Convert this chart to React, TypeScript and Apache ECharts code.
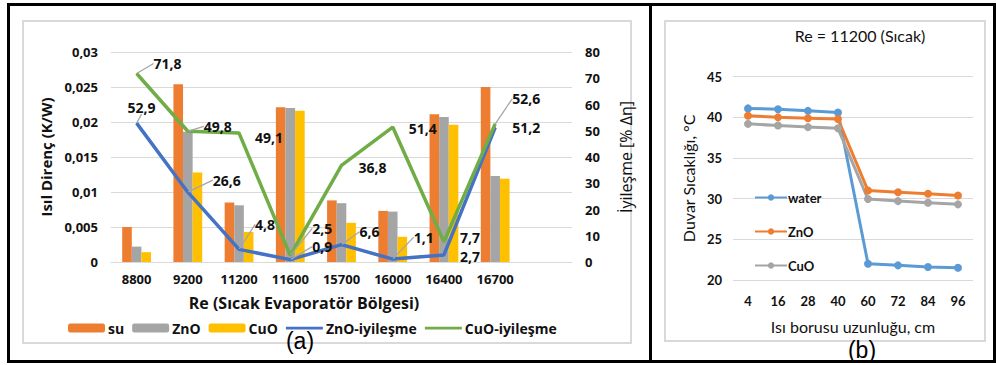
import React, { useEffect, useRef } from "react";
import * as echarts from "echarts";

// (a) Thermal resistance and improvement vs Reynolds number
const reCategories = ["8800", "9200", "11200", "11600", "15700", "16000", "16400", "16700", ""];
const suResistance = [0.005, 0.0254, 0.0085, 0.0221, 0.0088, 0.0073, 0.0211, 0.025];
const znoResistance = [0.0022, 0.0186, 0.0081, 0.022, 0.0084, 0.0072, 0.0207, 0.0123];
const cuoResistance = [0.0014, 0.0128, 0.0043, 0.0216, 0.0056, 0.0036, 0.0196, 0.0119];
const znoImprovement = [52.9, 26.6, 4.8, 0.9, 6.6, 1.1, 2.7, 51.2];
const cuoImprovement = [71.8, 49.8, 49.1, 2.5, 36.8, 51.4, 7.7, 52.6];
const resistanceTicks = ["0", "0,005", "0,01", "0,015", "0,02", "0,025", "0,03"];

// (b) Wall temperature along the heat pipe, Re = 11200
const pipeLengths = ["4", "16", "28", "40", "60", "72", "84", "96"];
const waterWall = [41.1, 41.0, 40.8, 40.6, 22.0, 21.8, 21.6, 21.5];
const znoWall = [40.2, 40.0, 39.9, 39.8, 31.0, 30.8, 30.6, 30.4];
const cuoWall = [39.2, 39.0, 38.8, 38.65, 29.95, 29.7, 29.5, 29.3];

// label placement for the improvement lines (offset from the point, leader line on/off)
const cuoLabelShift = [[31, -10], [30, -5], [30, 4], [32, -27], [31, 2], [30, 1], [26, -4], [31, -25]];
const cuoLeader = [true, true, false, true, false, false, false, true];
const znoLabelShift = [[5, -16], [39, -12], [26, -25], [32, -13], [28, -13], [31, -22], [26, 2], [31, 0]];
const znoLeader = [true, true, true, true, true, true, false, false];

const FONT_A = '"Open Sans", "DejaVu Sans", sans-serif';
const FONT_B = 'Lato, "Open Sans", sans-serif';
const GRID = "#d9d9d9";
const INK = "#111";
// thin bar-shaped legend marker for the line series (extent kept at full icon height)
const LINE_ICON = "path://M0,0 M0,9 M0,3.3 L37,3.3 L37,5.9 L0,5.9 Z";

const comma = (v: number) => String(v).replace(".", ",");

function improvementSeries(
  name: string,
  values: number[],
  color: string,
  shifts: number[][],
  leaders: boolean[]
) {
  return {
    name,
    type: "line",
    yAxisIndex: 1,
    z: 4,
    data: values.map((v, i) => ({ value: v, labelLine: { show: leaders[i] } })),
    symbol: "circle",
    symbolSize: 1,
    showSymbol: true,
    itemStyle: { color },
    lineStyle: { color, width: 3.5 },
    label: {
      show: true,
      position: "inside",
      formatter: (p: any) => comma(p.value),
      color: INK,
      fontFamily: FONT_A,
      fontWeight: "bold",
      fontSize: 14,
    },
    labelLine: { show: false, lineStyle: { color: "#a6a6a6", width: 1.3 } },
    labelLayout: (p: any) => ({
      dx: shifts[p.dataIndex][0],
      dy: shifts[p.dataIndex][1],
    }),
  };
}

function barSeries(name: string, values: number[], color: string) {
  return {
    name,
    type: "bar",
    data: values,
    barWidth: 9.6,
    barGap: "0%",
    itemStyle: { color },
    z: 2,
  };
}

function resistanceOption(): any {
  return {
    animation: false,
    backgroundColor: "transparent",
    textStyle: { fontFamily: FONT_A },
    grid: { left: 111, top: 52, width: 461, height: 210 },
    xAxis: {
      type: "category",
      data: reCategories,
      axisTick: { show: false },
      axisLine: { lineStyle: { color: GRID, width: 1 } },
      axisLabel: { color: INK, fontWeight: "bold", fontSize: 13, margin: 10, fontFamily: FONT_A },
    },
    yAxis: [
      {
        type: "value",
        min: 0,
        max: 0.03,
        interval: 0.005,
        axisLabel: {
          color: INK,
          fontWeight: "bold",
          fontSize: 13,
          margin: 13,
          fontFamily: FONT_A,
          formatter: (v: number) => resistanceTicks[Math.round(v / 0.005)],
        },
        splitLine: { lineStyle: { color: GRID, width: 1 } },
        name: "Isıl Direnç (K/W)",
        nameLocation: "middle",
        nameGap: 57,
        nameTextStyle: { color: INK, fontWeight: "bold", fontSize: 15, fontFamily: FONT_A },
      },
      {
        type: "value",
        min: 0,
        max: 80,
        interval: 10,
        position: "right",
        splitLine: { show: false },
        axisLabel: { color: INK, fontWeight: "bold", fontSize: 13, margin: 13, fontFamily: FONT_A },
        name: "İyileşme [% Δη]",
        nameLocation: "middle",
        nameGap: 46,
        nameTextStyle: { color: INK, fontSize: 16, fontFamily: FONT_A },
      },
    ],
    legend: {
      left: 63,
      top: 316,
      itemWidth: 37,
      itemHeight: 9,
      itemGap: 8,
      textStyle: { color: INK, fontWeight: "bold", fontSize: 14, fontFamily: FONT_A, padding: [0, 0, 0, -2] },
      data: [
        "su",
        "ZnO",
        "CuO",
        { name: "ZnO-iyileşme", icon: LINE_ICON },
        { name: "CuO-iyileşme", icon: LINE_ICON },
      ],
    },
    series: [
      barSeries("su", suResistance, "#ed7d31"),
      barSeries("ZnO", znoResistance, "#a5a5a5"),
      barSeries("CuO", cuoResistance, "#ffc000"),
      improvementSeries("ZnO-iyileşme", znoImprovement, "#4472c4", znoLabelShift, znoLeader),
      improvementSeries("CuO-iyileşme", cuoImprovement, "#70ad47", cuoLabelShift, cuoLeader),
    ],
    graphic: [
      {
        type: "text",
        x: 304,
        y: 303,
        style: {
          text: "Re (Sıcak Evaporatör Bölgesi)",
          fill: INK,
          font: `bold 16px ${FONT_A}`,
          align: "center",
          verticalAlign: "middle",
        },
      },
      {
        type: "text",
        x: 300,
        y: 341,
        style: {
          text: "(a)",
          fill: "#000",
          font: '23px "Liberation Sans", Arial, sans-serif',
          align: "center",
          verticalAlign: "middle",
        },
      },
    ],
  };
}

function wallSeries(name: string, values: number[], color: string) {
  return {
    name,
    type: "line",
    data: values,
    symbol: "circle",
    symbolSize: 8,
    itemStyle: { color },
    lineStyle: { color, width: 3 },
  };
}

function wallOption(): any {
  return {
    animation: false,
    backgroundColor: "transparent",
    textStyle: { fontFamily: FONT_B },
    grid: { left: 81, top: 76.7, width: 240, height: 203.3 },
    xAxis: {
      type: "category",
      data: pipeLengths,
      boundaryGap: true,
      axisTick: { show: false },
      axisLine: { show: false },
      axisLabel: { color: INK, fontWeight: "bold", fontSize: 13, margin: 14, fontFamily: FONT_B },
      name: "Isı borusu uzunluğu, cm",
      nameLocation: "middle",
      nameGap: 38,
      nameTextStyle: { color: INK, fontSize: 16, fontFamily: FONT_B },
    },
    yAxis: {
      type: "value",
      min: 20,
      max: 45,
      interval: 5,
      axisLabel: { color: INK, fontWeight: "bold", fontSize: 13, margin: 11, fontFamily: FONT_B },
      splitLine: { lineStyle: { color: GRID, width: 1 } },
      name: "Duvar Sıcaklığı, °C",
      nameLocation: "middle",
      nameGap: 28,
      nameTextStyle: { color: INK, fontSize: 16, fontFamily: FONT_B },
    },
    legend: {
      orient: "vertical",
      left: 97,
      top: 186,
      itemWidth: 32,
      itemHeight: 8,
      itemGap: 21,
      textStyle: { color: INK, fontWeight: "bold", fontSize: 13, fontFamily: FONT_B, padding: [0, 0, 0, -4] },
      data: ["water", "ZnO", "CuO"],
    },
    series: [
      wallSeries("water", waterWall, "#5b9bd5"),
      wallSeries("ZnO", znoWall, "#ed7d31"),
      wallSeries("CuO", cuoWall, "#a5a5a5"),
    ],
    graphic: [
      {
        type: "text",
        x: 208,
        y: 35,
        style: {
          text: "Re = 11200 (Sıcak)",
          fill: INK,
          font: `16px ${FONT_B}`,
          align: "center",
          verticalAlign: "middle",
        },
      },
      {
        type: "text",
        x: 210,
        y: 350,
        style: {
          text: "(b)",
          fill: "#000",
          font: '23px "Liberation Sans", Arial, sans-serif',
          align: "center",
          verticalAlign: "middle",
        },
      },
    ],
  };
}

const abs = (l: number, t: number, w: number, h: number): React.CSSProperties => ({
  position: "absolute",
  left: l,
  top: t,
  width: w,
  height: h,
  boxSizing: "border-box",
});

export default function App() {
  const leftRef = useRef<HTMLDivElement>(null);
  const rightRef = useRef<HTMLDivElement>(null);

  useEffect(() => {
    const left = echarts.init(leftRef.current!, null, { renderer: "svg" });
    const right = echarts.init(rightRef.current!, null, { renderer: "svg" });
    left.setOption(resistanceOption());
    right.setOption(wallOption());
    return () => {
      left.dispose();
      right.dispose();
    };
  }, []);

  return (
    <div style={{ ...abs(0, 0, 996, 365), background: "#fff", overflow: "hidden" }}>
      {/* panel frames */}
      <div style={{ ...abs(7, 3, 989, 360), border: "3px solid #000" }} />
      <div style={{ ...abs(649, 3, 3, 360), background: "#000" }} />
      <div style={{ ...abs(22, 20, 610, 324), border: `2px solid ${GRID}` }} />
      <div style={{ ...abs(664, 20, 322, 322), border: `2px solid ${GRID}` }} />
      <div ref={leftRef} style={abs(0, 0, 652, 365)} />
      <div ref={rightRef} style={abs(652, 0, 344, 365)} />
    </div>
  );
}
